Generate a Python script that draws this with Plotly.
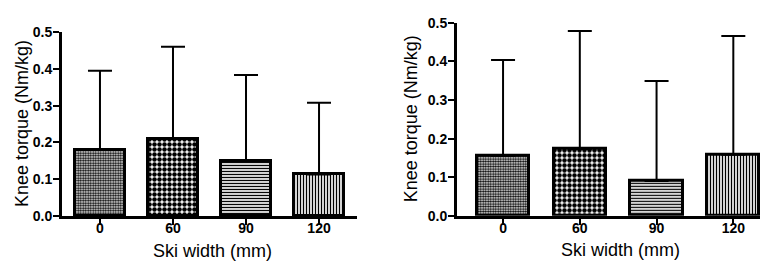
import plotly.graph_objects as go

categories = ["0", "60", "90", "120"]
left_means = [0.180, 0.210, 0.150, 0.113]
left_upper = [0.395, 0.460, 0.383, 0.308]
right_means = [0.155, 0.173, 0.090, 0.158]
right_upper = [0.404, 0.479, 0.349, 0.466]
y_ticks = [0.0, 0.1, 0.2, 0.3, 0.4, 0.5]

W, H = 768, 263
xpos = list(range(len(categories)))

pattern = dict(
    shape=[".", ".", "-", "|"],
    size=[2.5, 5, 3, 3],
    solidity=[0.6, 0.65, 0.45, 0.45],
    fgcolor="black",
    bgcolor="white",
    fillmode="replace",
)

fig = go.Figure()


def add_panel(means, upper, xa, ya, width):
    fig.add_trace(go.Bar(
        x=xpos, y=means, width=width,
        xaxis=xa, yaxis=ya,
        marker=dict(color="white", pattern=pattern,
                    line=dict(color="black", width=3)),
        error_y=dict(type="data", symmetric=False,
                     array=[u - m for u, m in zip(upper, means)],
                     arrayminus=[0] * len(means),
                     color="black", thickness=2, width=12),
        showlegend=False,
    ))


add_panel(left_means, left_upper, "x", "y", 0.685)
add_panel(right_means, right_upper, "x2", "y2", 0.68)

font = "Liberation Sans, Arial, sans-serif"
axis_common = dict(showline=True, linecolor="black", linewidth=3,
                   ticks="outside", ticklen=6, tickwidth=2, tickcolor="black",
                   showgrid=False, zeroline=False,
                   tickfont=dict(family=font, size=14, color="black", weight="bold"))

fig.update_layout(
    width=W, height=H,
    margin=dict(l=0, r=0, t=0, b=0),
    paper_bgcolor="white", plot_bgcolor="white",
    bargap=0,
    xaxis=dict(domain=[54 / W, 349 / W], range=[-0.52, 3.52],
               tickvals=xpos, ticktext=categories, anchor="y",
               ticklabelstandoff=-9, **axis_common),
    yaxis=dict(domain=[50 / H, 246 / H], range=[0, 0.5],
               tickvals=y_ticks, tickformat=".1f", anchor="x",
               ticklabelstandoff=-2, **axis_common),
    xaxis2=dict(domain=[449 / W, 766 / W], range=[-0.6, 3.53],
                tickvals=xpos, ticktext=categories, anchor="y2",
                ticklabelstandoff=-9, **axis_common),
    yaxis2=dict(domain=[50.3 / H, 255.7 / H], range=[0, 0.5],
                tickvals=y_ticks, tickformat=".1f", anchor="x2",
                ticklabelstandoff=-2, **axis_common),
)

title_font = dict(family=font, size=18, color="black")
ann = [
    dict(text="Knee torque (Nm/kg)", x=14 / W, y=1 - 115 / H, textangle=-90),
    dict(text="Ski width (mm)", x=204 / W, y=1 - 250 / H),
    dict(text="Knee torque (Nm/kg)", x=403 / W, y=1 - 110 / H, textangle=-90),
    dict(text="Ski width (mm)", x=612 / W, y=1 - 249 / H),
]
for a in ann:
    fig.add_annotation(xref="paper", yref="paper", showarrow=False,
                       xanchor="center", yanchor="middle", font=title_font, **a)

fig.write_html("out.html")
